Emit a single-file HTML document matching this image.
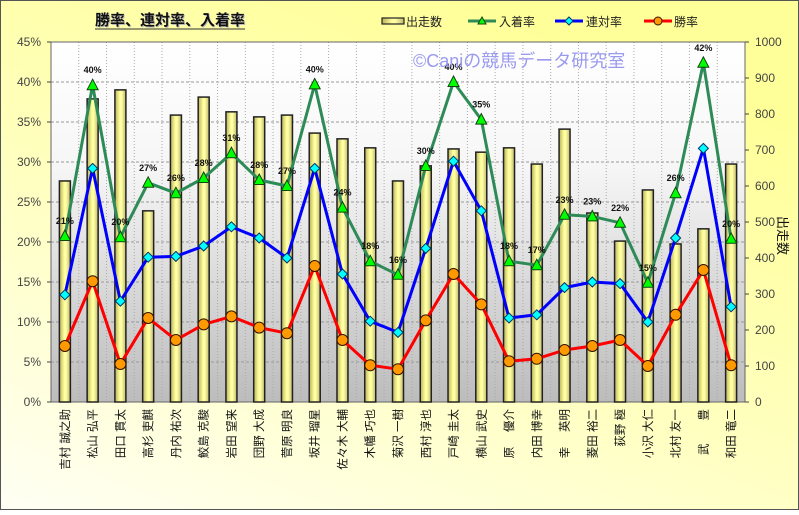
<!DOCTYPE html>
<html><head><meta charset="utf-8"><style>
html,body{margin:0;padding:0;}
body{width:799px;height:510px;overflow:hidden;}
svg text{font-family:"Liberation Sans","Noto Sans CJK JP",sans-serif;}
</style></head><body>
<svg id="s" width="799" height="510" xmlns="http://www.w3.org/2000/svg">
<defs>
<linearGradient id="bg" x1="0" y1="1" x2="0.6" y2="0">
<stop offset="0" stop-color="#fffff4"/><stop offset="0.5" stop-color="#ffffc0"/><stop offset="1" stop-color="#ffff99"/></linearGradient>
<linearGradient id="pl" x1="0" y1="0" x2="0" y2="1">
<stop offset="0" stop-color="#ffffff"/><stop offset="0.35" stop-color="#f6f6f6"/><stop offset="1" stop-color="#bcbcbc"/></linearGradient>
<linearGradient id="bar" x1="0" y1="0" x2="1" y2="0">
<stop offset="0" stop-color="#b8b060"/><stop offset="0.45" stop-color="#ffff99"/><stop offset="0.6" stop-color="#ffffa8"/><stop offset="1" stop-color="#c0b868"/></linearGradient>
</defs>
<rect x="0.5" y="0.5" width="798" height="509" fill="url(#bg)" stroke="#555" stroke-width="1"/>
<g id="g"></g>
</svg>
<script>
var names=["吉村 誠之助","松山 弘平","田口 貫太","高杉 吏麒","丹内 祐次","鮫島 克駿","岩田 望来","団野 大成","菅原 明良","坂井 瑠星","佐々木 大輔","木幡 巧也","菊沢 一樹","西村 淳也","戸崎 圭太","横山 武史","原　 優介","内田 博幸","幸　 英明","菱田 裕二","荻野 極","小沢 大仁","北村 友一","武　　豊","和田 竜二"];
var cnt=[614,842,867,531,797,847,806,792,797,747,731,706,614,656,703,694,706,661,758,525,447,589,439,481,661];
var iri=[20.75,39.6,20.6,27.4,26.1,28.0,31.1,27.75,27.0,39.7,24.3,17.6,15.9,29.5,40.0,35.3,17.6,17.1,23.4,23.2,22.4,14.9,26.1,42.4,20.4];
var ren=[13.4,29.2,12.6,18.1,18.2,19.5,21.9,20.5,18.0,29.2,16.0,10.1,8.7,19.2,30.1,23.9,10.5,10.9,14.3,15.0,14.8,10.0,20.5,31.7,11.9];
var win=[7.0,15.1,4.75,10.5,7.75,9.7,10.7,9.3,8.6,17.0,7.75,4.6,4.1,10.2,16.0,12.2,5.1,5.4,6.5,7.0,7.75,4.5,10.9,16.5,4.6];
var lab=[21,40,20,27,26,28,31,28,27,40,24,18,16,30,40,35,18,17,23,23,22,15,26,42,20];
var L=51,R=745,T=42,B=402,n=25,w=(R-L)/n;
function cx(i){return L+w*(i+0.5);}
function yp(v){return B-v*8;}
function yc(c){return B-c*0.36;}
var h='';
h+='<rect x="'+L+'" y="'+T+'" width="'+(R-L)+'" height="'+(B-T)+'" fill="url(#pl)"/>';
for(var k=1;k<9;k++){var y=B-k*40;h+='<line x1="'+L+'" x2="'+R+'" y1="'+y+'" y2="'+y+'" stroke="#999" stroke-dasharray="3,2" stroke-width="1"/>';}
for(var i=1;i<n;i++){var x=L+w*i;h+='<line x1="'+x+'" x2="'+x+'" y1="'+T+'" y2="'+B+'" stroke="#aaa" stroke-dasharray="1,2" stroke-width="1"/>';}
h+='<rect x="'+L+'" y="'+T+'" width="'+(R-L)+'" height="'+(B-T)+'" fill="none" stroke="#666" stroke-width="1"/>';
for(var i=0;i<n;i++){var x=cx(i);h+='<rect x="'+(x-5.5)+'" y="'+yc(cnt[i])+'" width="11" height="'+(B-yc(cnt[i]))+'" fill="url(#bar)" stroke="#222" stroke-width="1.5"/>';}
for(var k=0;k<=9;k++){var y=B-k*40;h+='<line x1="'+(L-4)+'" x2="'+L+'" y1="'+y+'" y2="'+y+'" stroke="#444"/>';h+='<text x="41" y="'+(y+4)+'" font-size="12" fill="#444" text-anchor="end">'+(k*5)+'%</text>';}
for(var k=0;k<=10;k++){var y=B-k*36;h+='<line x1="'+R+'" x2="'+(R+4)+'" y1="'+y+'" y2="'+y+'" stroke="#444"/>';h+='<text x="755" y="'+(y+4)+'" font-size="12" fill="#444">'+(k*100)+'</text>';}
function line(arr,col){var p=arr.map(function(v,i){return cx(i).toFixed(1)+','+yp(v).toFixed(1);}).join(' ');return '<polyline points="'+p+'" fill="none" stroke="'+col+'" stroke-width="3" stroke-linejoin="round"/>';}
h+=line(iri,'#2e8b57');h+=line(ren,'#0000ff');h+=line(win,'#ff0000');
for(var i=0;i<n;i++){var x=cx(i),y=yp(iri[i]);h+='<polygon points="'+x+','+(y-6)+' '+(x-5.5)+','+(y+4.5)+' '+(x+5.5)+','+(y+4.5)+'" fill="#00ff00" stroke="#114411" stroke-width="1"/>';
h+='<text x="'+x+'" y="'+(y-12)+'" font-size="9" font-weight="bold" fill="#111" text-anchor="middle">'+lab[i]+'%</text>';}
for(var i=0;i<n;i++){var x=cx(i),y=yp(ren[i]);h+='<polygon points="'+x+','+(y-5)+' '+(x+5)+','+y+' '+x+','+(y+5)+' '+(x-5)+','+y+'" fill="#00ffff" stroke="#003366" stroke-width="1"/>';}
for(var i=0;i<n;i++){var x=cx(i),y=yp(win[i]);h+='<circle cx="'+x+'" cy="'+y+'" r="5.5" fill="#ff9900" stroke="#331100" stroke-width="1"/>';}
for(var i=0;i<n;i++){var x=cx(i)+4;h+='<text transform="translate('+x+',409) rotate(-90)" font-size="11.5" fill="#111" text-anchor="end">'+names[i]+'</text>';}
h+='<text transform="translate(778,216) rotate(90)" font-size="13" fill="#111">出走数</text>';
h+='<text x="96" y="26" font-size="15" font-weight="bold" fill="#bbb">勝率、連対率、入着率</text>';
h+='<text x="95" y="25" font-size="15" font-weight="bold" fill="#111">勝率、連対率、入着率</text>';
h+='<line x1="95" x2="245" y1="29" y2="29" stroke="#333" stroke-width="1"/>';
h+='<text x="413" y="67" font-size="18" fill="#9a9af0">©Caniの競馬データ研究室</text>';
h+='<rect x="382" y="18" width="22" height="6" fill="url(#bar)" stroke="#222" stroke-width="1.2"/><text x="406" y="26" font-size="12" fill="#222">出走数</text>';
h+='<line x1="468" x2="496" y1="21" y2="21" stroke="#2e8b57" stroke-width="3"/><polygon points="482,17 478,24 486,24" fill="#00ff00" stroke="#114411"/><text x="499" y="26" font-size="12" fill="#222">入着率</text>';
h+='<line x1="555" x2="583" y1="21" y2="21" stroke="#0000ff" stroke-width="3"/><polygon points="569,17 573,21 569,25 565,21" fill="#00ffff" stroke="#003366"/><text x="586" y="26" font-size="12" fill="#222">連対率</text>';
h+='<line x1="644" x2="672" y1="21" y2="21" stroke="#ff0000" stroke-width="3"/><circle cx="658" cy="21" r="4" fill="#ff9900" stroke="#331100"/><text x="674" y="26" font-size="12" fill="#222">勝率</text>';
document.getElementById('g').innerHTML=h;
</script>
</body></html>
